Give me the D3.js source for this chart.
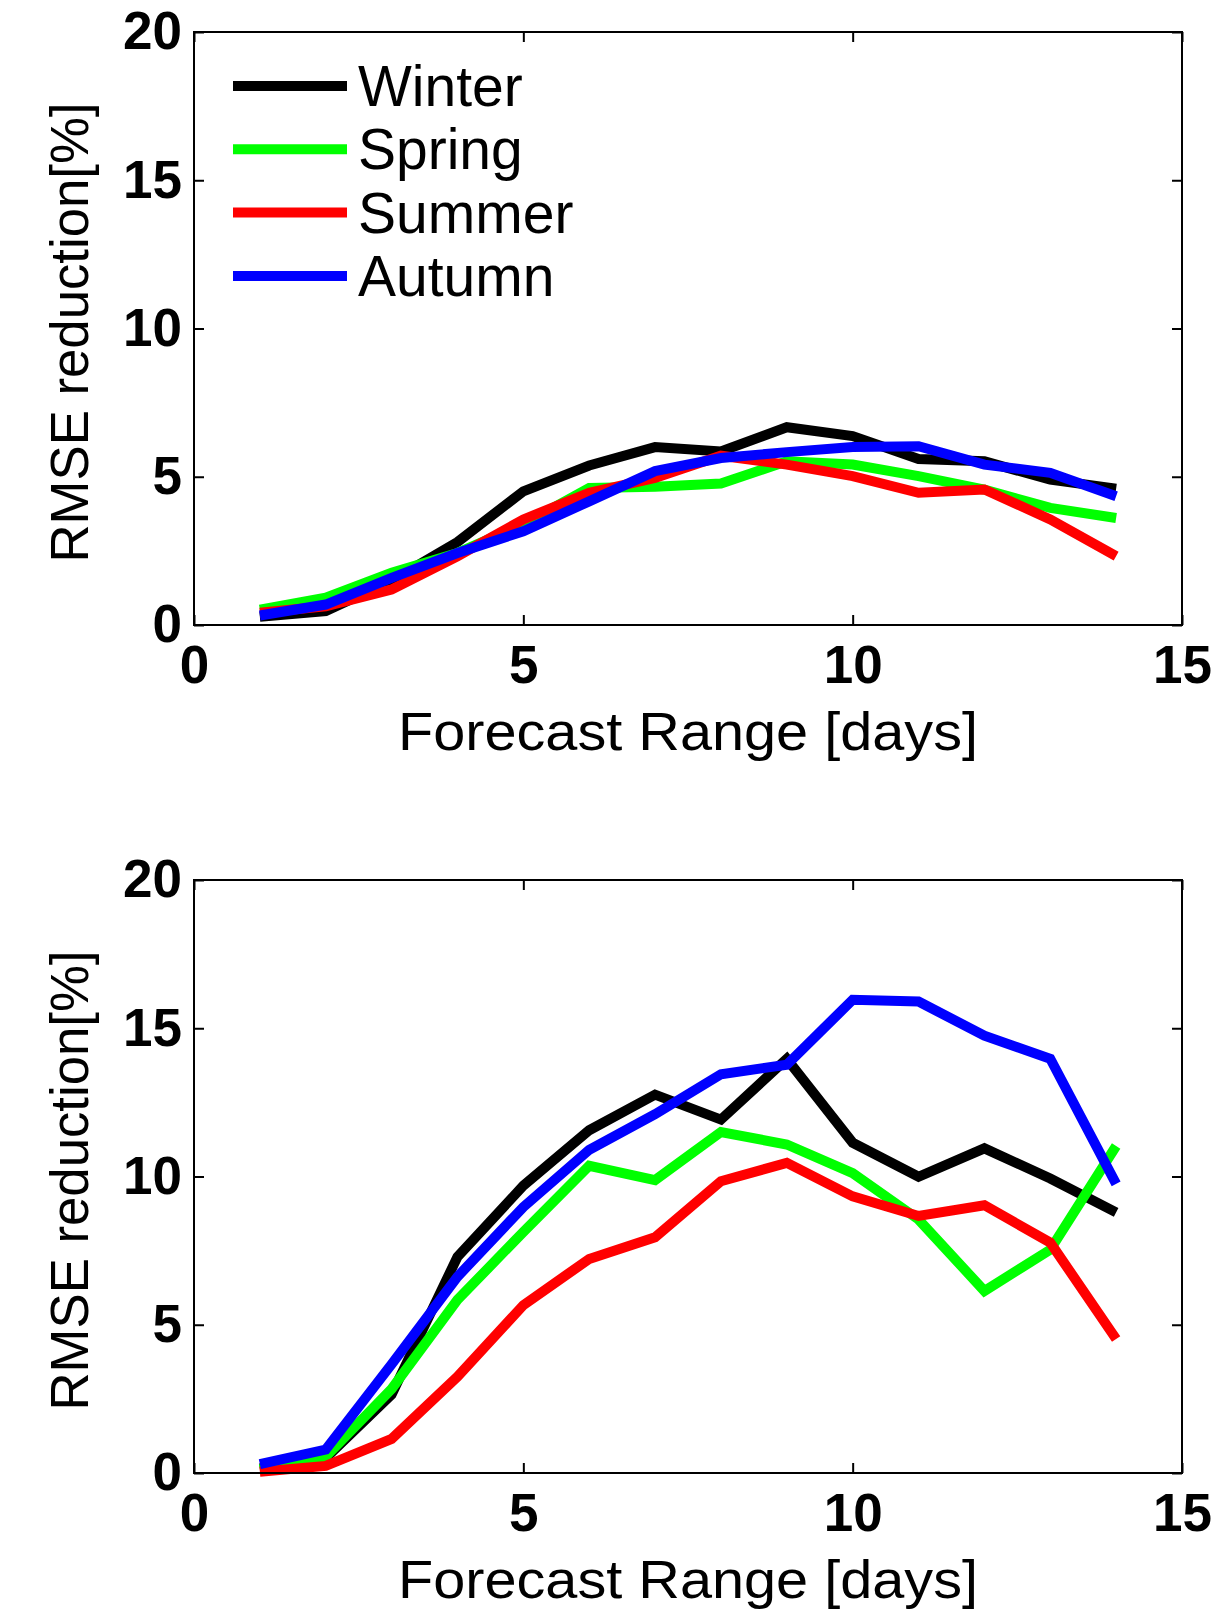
<!DOCTYPE html>
<html>
<head>
<meta charset="utf-8">
<script src="https://cdn.jsdelivr.net/npm/d3@7"></script>
<style>
	body { margin: 0; background: #fff; }
	svg { display: block; font-family: "Liberation Sans", Arial, Helvetica, sans-serif; }
</style>
</head>
<body>
<svg id="chart" width="1227" height="1619"></svg>
<script>
// Forecast range (days) shared by every series
const days = [1, 2, 3, 4, 5, 6, 7, 8, 9, 10, 11, 12, 13, 14]

const seasons = ["Winter", "Spring", "Summer", "Autumn"]
const seasonColours = ["#000000", "#00ff00", "#ff0000", "#0000ff"]

const xTicks = [0, 5, 10, 15]
const yTicks = [0, 5, 10, 15, 20]

// Upper panel, RMSE reduction [%]
const upperWinter = [0.28, 0.47, 1.50, 2.80, 4.51, 5.38, 6.00, 5.85, 6.67, 6.37, 5.60, 5.52, 4.90, 4.60]
const upperSpring = [0.52, 0.92, 1.76, 2.43, 3.40, 4.62, 4.66, 4.77, 5.52, 5.41, 5.02, 4.57, 3.95, 3.61]
const upperSummer = [0.41, 0.63, 1.20, 2.32, 3.56, 4.46, 4.96, 5.71, 5.41, 5.02, 4.46, 4.57, 3.56, 2.32]
const upperAutumn = [0.32, 0.69, 1.59, 2.43, 3.16, 4.17, 5.19, 5.63, 5.83, 6.00, 6.03, 5.41, 5.13, 4.34]

// Lower panel, RMSE reduction [%]
const lowerWinter = [0.15, 0.50, 2.65, 7.29, 9.69, 11.56, 12.76, 11.92, 13.97, 11.14, 9.99, 10.95, 9.93, 8.79]
const lowerSpring = [0.12, 0.55, 2.83, 5.84, 8.13, 10.36, 9.88, 11.50, 11.08, 10.11, 8.55, 6.14, 7.53, 11.03]
const lowerSummer = [0.04, 0.24, 1.15, 3.25, 5.66, 7.22, 7.95, 9.84, 10.46, 9.33, 8.67, 9.03, 7.77, 4.52]
const lowerAutumn = [0.30, 0.79, 3.67, 6.62, 8.97, 10.90, 12.10, 13.45, 13.77, 15.96, 15.90, 14.75, 13.97, 9.75]

const panels = [
	{ top: 32, legend: true, series: [upperWinter, upperSpring, upperSummer, upperAutumn] },
	{ top: 880, legend: false, series: [lowerWinter, lowerSpring, lowerSummer, lowerAutumn] },
]

const layout = {
	left: 194,
	right: 1182,
	height: 593,
	lineWidth: 10,
	tickLength: 10,
}

const svg = d3.select("#chart")

const x = d3.scaleLinear()
	.domain([0, 15])
	.range([layout.left, layout.right])

panels.forEach(drawPanel)

function drawPanel(panel) {
	let y = d3.scaleLinear()
		.domain([0, 20])
		.range([panel.top + layout.height, panel.top])

	let g = svg.append("g")
		.attr("class", "panel")

	// Ticks point inward on all four sides, labels only left and bottom
	g.append("g")
		.attr("transform", `translate(${layout.left}, 0)`)
		.call(d3.axisLeft(y).tickValues(yTicks).tickSize(-layout.tickLength).tickPadding(12))
	g.append("g")
		.attr("transform", `translate(0, ${y(0)})`)
		.call(d3.axisBottom(x).tickValues(xTicks).tickSize(-layout.tickLength).tickPadding(20))
	g.append("g")
		.attr("transform", `translate(${layout.right}, 0)`)
		.call(d3.axisRight(y).tickValues(yTicks).tickSize(-layout.tickLength).tickFormat(""))
	g.append("g")
		.attr("transform", `translate(0, ${panel.top})`)
		.call(d3.axisTop(x).tickValues(xTicks).tickSize(-layout.tickLength).tickFormat(""))

	g.selectAll(".domain").remove()
	g.selectAll(".tick line")
		.attr("stroke", "#000")
		.attr("stroke-width", 2)
	g.selectAll(".tick text")
		.attr("fill", "#000")
		.style("font-size", "53px")
		.style("font-weight", "bold")

	// Series, drawn winter first so autumn sits on top
	let line = d3.line()
		.x((d, i) => x(days[i]))
		.y(d => y(d))

	g.selectAll("path.series")
		.data(panel.series)
		.join("path")
		.attr("class", "series")
		.attr("d", line)
		.attr("fill", "none")
		.attr("stroke", (d, i) => seasonColours[i])
		.attr("stroke-width", layout.lineWidth)
		.attr("stroke-linejoin", "miter")

	// Plot box
	g.append("rect")
		.attr("x", layout.left)
		.attr("y", panel.top)
		.attr("width", layout.right - layout.left)
		.attr("height", layout.height)
		.attr("fill", "none")
		.attr("stroke", "#000")
		.attr("stroke-width", 2)

	// Axis titles
	g.append("text")
		.attr("x", (layout.left + layout.right) / 2)
		.attr("y", y(0) + 125)
		.attr("text-anchor", "middle")
		.attr("textLength", 580)
		.attr("lengthAdjust", "spacingAndGlyphs")
		.style("font-size", "54px")
		.text("Forecast Range [days]")

	g.append("text")
		.attr("transform", `translate(88, ${panel.top + layout.height / 2 + 4}) rotate(-90)`)
		.attr("text-anchor", "middle")
		.attr("textLength", 460)
		.attr("lengthAdjust", "spacingAndGlyphs")
		.style("font-size", "54px")
		.text("RMSE reduction[%]")

	if (panel.legend) drawLegend(g, panel)
}

function drawLegend(g, panel) {
	let rowHeight = 63.3
	let items = g.selectAll("g.legendItem")
		.data(seasons)
		.join("g")
		.attr("class", "legendItem")
		.attr("transform", (d, i) => `translate(0, ${panel.top + 54 + i * rowHeight})`)
	items.append("line")
		.attr("x1", 233)
		.attr("x2", 347)
		.attr("stroke", (d, i) => seasonColours[i])
		.attr("stroke-width", 10)
	items.append("text")
		.attr("x", 358)
		.attr("y", 20)
		.style("font-size", "57px")
		.text(d => d)
}
</script>
</body>
</html>
